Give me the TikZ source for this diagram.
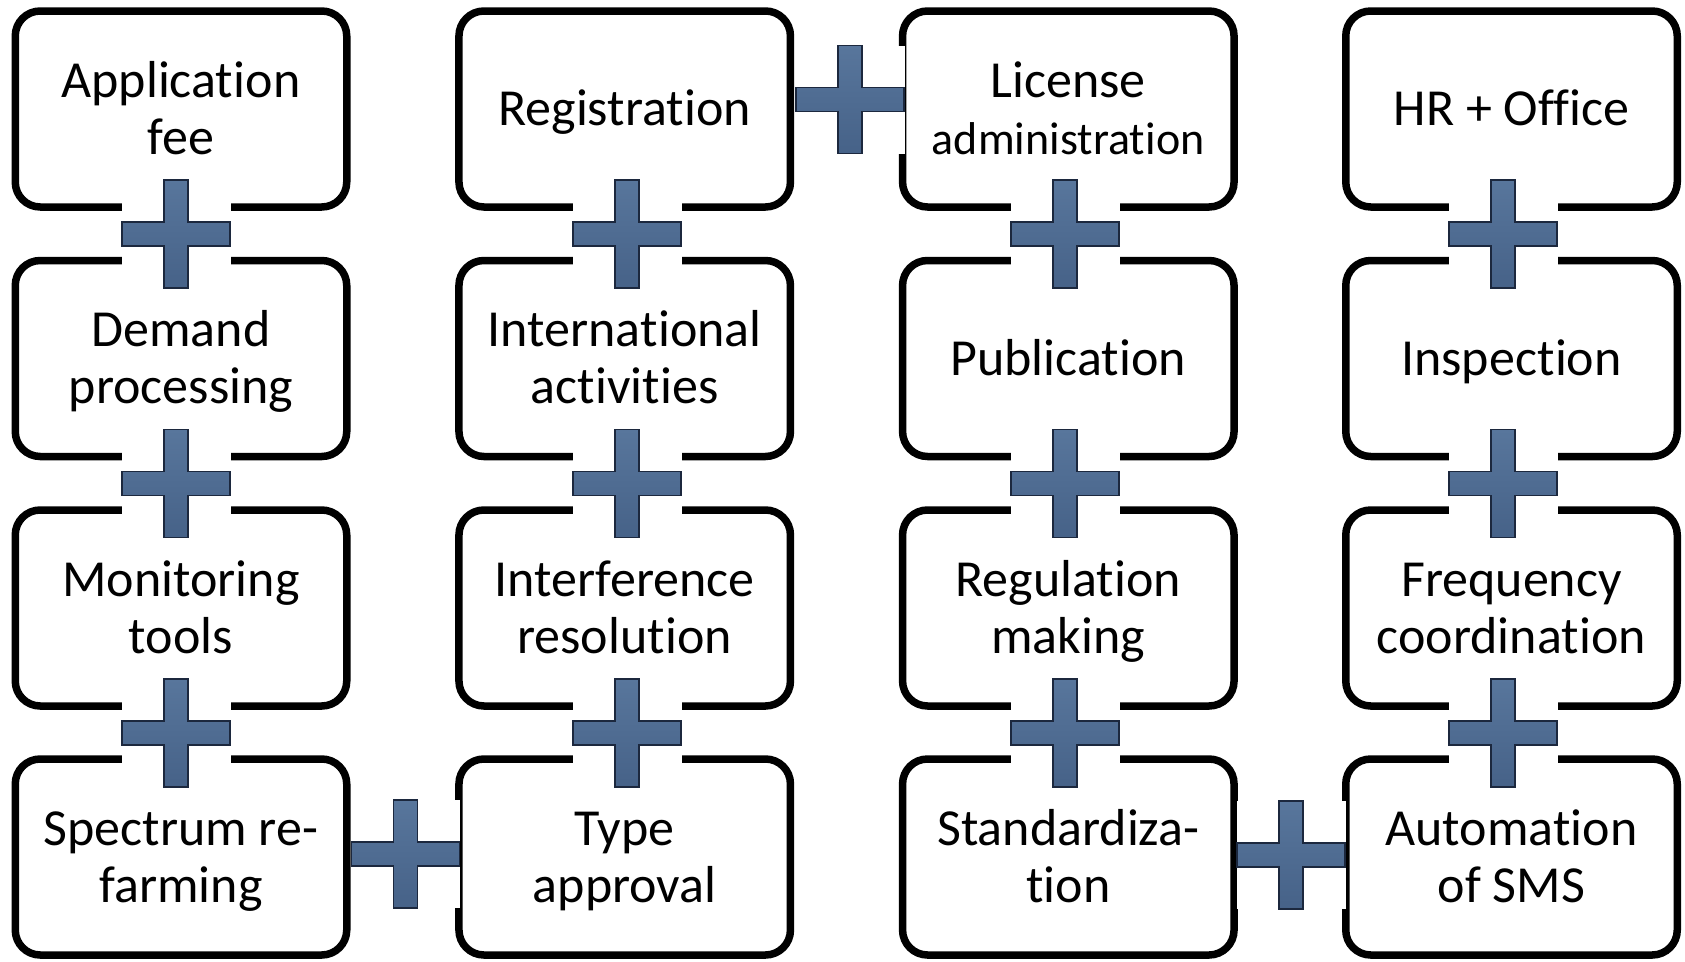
\documentclass[tikz,border=0pt]{standalone}
\usepackage{fontspec}
\setmainfont{Carlito}[RawFeature={-liga;-clig;-calt;-rlig;-dlig}]
\usetikzlibrary{calc}

\definecolor{plustop}{RGB}{88,118,156}
\definecolor{plusbottom}{RGB}{70,98,136}
\definecolor{plusedge}{RGB}{28,40,62}

\tikzset{
  taskbox/.style={draw=black, fill=white, line width=7.5pt, rounded corners=25pt,
    minimum width=331.5pt, minimum height=196pt, inner sep=0pt, outer sep=0pt,
    font=\fontsize{52}{57}\selectfont},
  oneline/.style={text height=33.5pt, text depth=0pt},
  twoline/.style={text height=90.5pt, text depth=0pt},
  plusbg/.style={fill=white, minimum width=109pt, minimum height=108pt, inner sep=0pt, outer sep=0pt},
  plusbar/.style={draw=plusedge, line width=1.8pt, top color=plustop, bottom color=plusbottom}
}

% white patch with a plus sign on top, centred on a named node
\newcommand{\plusmark}[3]{%
  \node[plusbg] (#1) at (#2,#3) {};
  \path[plusbar, shift={(#1.center)}]
    (-12,-54) -- (12,-54) -- (12,-12) -- (54,-12) -- (54,12) -- (12,12) --
    (12,54) -- (-12,54) -- (-12,12) -- (-54,12) -- (-54,-12) -- (-12,-12) -- cycle;
}
\newcommand{\lines}[1]{\begin{tabular}[b]{@{}c@{}}#1\end{tabular}}
% keeps "t" and "i" as two separate glyphs
\newcommand{\tii}{t\kern0.5pt i}

\begin{document}
\begin{tikzpicture}[x=1pt,y=-1pt]
\fill[white] (0,0) rectangle (1685,961);
\useasboundingbox (0,0) rectangle (1685,961);

% column 1
\node[taskbox, twoline] (a1) at (181,109)   {\lines{Applica\tii on\\fee}};
\node[taskbox, twoline] (a2) at (181,358.5) {\lines{Demand\\processing}};
\node[taskbox, twoline] (a3) at (181,608)   {\lines{Monitoring\\tools}};
\node[taskbox, twoline] (a4) at (181,857)   {\lines{Spectrum re-\\farming}};

% column 2
\node[taskbox, oneline] (b1) at (624.7,109)   {\lines{Registra\tii on}};
\node[taskbox, twoline] (b2) at (624.7,358.5) {\lines{Interna\tii onal\\ac\tii vi\tii es}};
\node[taskbox, twoline] (b3) at (624.7,608)   {\lines{Interference\\resolu\tii on}};
\node[taskbox, twoline] (b4) at (624.7,857)   {\lines{Type\\approval}};

% column 3
\node[taskbox, twoline] (c1) at (1068.3,109)   {\lines{License\\{\fontsize{46}{57}\selectfont administra\tii on}}};
\node[taskbox, oneline] (c2) at (1068.3,358.5) {\lines{Publica\tii on}};
\node[taskbox, twoline] (c3) at (1068.3,608)   {\lines{Regula\tii on\\making}};
\node[taskbox, twoline] (c4) at (1068.3,857)   {\lines{Standardiza-\\\tii on}};

% column 4
\node[taskbox, oneline] (d1) at (1511.5,109)   {\lines{HR + Office}};
\node[taskbox, oneline] (d2) at (1511.5,358.5) {\lines{Inspec\tii on}};
\node[taskbox, twoline] (d3) at (1511.5,608)   {\lines{Frequency\\coordina\tii on}};
\node[taskbox, twoline] (d4) at (1511.5,857)   {\lines{Automa\tii on\\of SMS}};

% plus signs joining the boxes down each column
\plusmark{pa12}{176}{234}
\plusmark{pa23}{176}{483.5}
\plusmark{pa34}{176}{733}
\plusmark{pb12}{627}{234}
\plusmark{pb23}{627}{483.5}
\plusmark{pb34}{627}{733}
\plusmark{pc12}{1065}{234}
\plusmark{pc23}{1065}{483.5}
\plusmark{pc34}{1065}{733}
\plusmark{pd12}{1503}{234}
\plusmark{pd23}{1503}{483.5}
\plusmark{pd34}{1503}{733}

% plus signs joining neighbouring columns
\plusmark{pbc1}{850}{99.5}
\plusmark{pab4}{405.5}{854}
\plusmark{pcd4}{1291}{855}
\end{tikzpicture}
\end{document}
